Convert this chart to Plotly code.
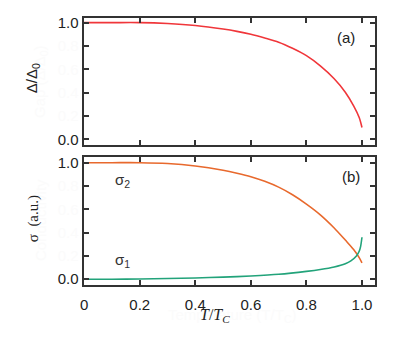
import plotly.graph_objects as go

# ---- data ----
t_gap = [0, 0.1, 0.2, 0.3, 0.4, 0.5, 0.55, 0.6, 0.65, 0.7, 0.75, 0.8, 0.85, 0.9, 0.94, 0.97, 0.99, 1.0]
gap = [1.0, 1.0, 1.0, 0.992, 0.975, 0.945, 0.925, 0.90, 0.868, 0.832, 0.78, 0.717, 0.63, 0.52, 0.405, 0.288, 0.188, 0.103]

t_sig2 = [0, 0.1, 0.2, 0.3, 0.4, 0.5, 0.55, 0.6, 0.65, 0.7, 0.75, 0.8, 0.85, 0.9, 0.94, 0.97, 0.99, 1.0]
sigma2 = [1.0, 1.0, 1.0, 0.993, 0.972, 0.935, 0.91, 0.88, 0.84, 0.79, 0.725, 0.645, 0.553, 0.44, 0.336, 0.255, 0.185, 0.14]

t_sig1 = [0, 0.1, 0.2, 0.3, 0.4, 0.5, 0.6, 0.7, 0.8, 0.85, 0.9, 0.94, 0.96, 0.98, 0.99, 0.995, 1.0]
sigma1 = [0.0, 0.0, 0.002, 0.006, 0.011, 0.018, 0.028, 0.042, 0.067, 0.083, 0.105, 0.133, 0.158, 0.2, 0.24, 0.28, 0.36]

x_ticks = [0, 0.2, 0.4, 0.6, 0.8, 1.0]
x_ticklabels = ["0", "0.2", "0.4", "0.6", "0.8", "1.0"]
y_ticks = [0, 0.2, 0.4, 0.6, 0.8, 1.0]
y_ticklabels = ["0.0", "0.2", "0.4", "0.6", "0.8", "1.0"]
y_ghost = [False, True, True, True, True, False]

RED = "#f0363a"
ORANGE = "#e8692d"
GREEN = "#22a37a"
AX = "#333333"
GHOST = "#fbfbfb"
SANS = "Liberation Sans, Arial, sans-serif"
SERIF = "Liberation Serif, Times New Roman, serif"

ytext = [f"<span style='color:{GHOST}'>{lab}</span>" if g else lab for lab, g in zip(y_ticklabels, y_ghost)]

fig = go.Figure()
fig.add_trace(go.Scatter(x=t_gap, y=gap, mode="lines", line=dict(color=RED, width=1.6, shape="spline", smoothing=0.8),
                         xaxis="x", yaxis="y", showlegend=False))
fig.add_trace(go.Scatter(x=t_sig2, y=sigma2, mode="lines", line=dict(color=ORANGE, width=1.6, shape="spline", smoothing=0.8),
                         xaxis="x2", yaxis="y2", showlegend=False))
fig.add_trace(go.Scatter(x=t_sig1, y=sigma1, mode="lines", line=dict(color=GREEN, width=1.6, shape="spline", smoothing=0.8),
                         xaxis="x2", yaxis="y2", showlegend=False))

W, H = 408, 341
xdom = [80.4 / W, 374.7 / W]
common_x = dict(range=[-0.002, 1.047], tickvals=x_ticks, ticks="inside", ticklen=5, tickwidth=1.5,
                tickcolor=AX, showline=True, linecolor=AX, linewidth=2, mirror="ticks",
                showgrid=False, zeroline=False, domain=xdom,
                tickfont=dict(family=SANS, size=15, color="#222"))
common_y = dict(tickvals=y_ticks, ticktext=ytext, ticks="inside", ticklen=5, tickwidth=1.5,
                tickcolor=AX, showline=True, linecolor=AX, linewidth=2, mirror="ticks",
                showgrid=False, zeroline=False,
                tickfont=dict(family=SANS, size=15, color="#222"))

fig.update_layout(
    width=W, height=H,
    margin=dict(l=0, r=0, t=0, b=0),
    paper_bgcolor="white", plot_bgcolor="white",
    xaxis=dict(common_x, anchor="y", showticklabels=False),
    yaxis=dict(common_y, anchor="x", range=[-0.05, 1.042],
               domain=[(H - 144.3) / H, (H - 14) / H]),
    xaxis2=dict(common_x, anchor="y2", ticktext=x_ticklabels, showticklabels=True, ticklabelstandoff=5),
    yaxis2=dict(common_y, anchor="x2", range=[-0.048, 1.053],
                domain=[(H - 286.7) / H, (H - 155.7) / H]),
)


def px(x, y):
    return x / W, 1 - y / H


def pann(text, x, y, font, angle=0):
    gx, gy = px(x, y)
    return dict(x=gx, y=gy, xref="paper", yref="paper", text=text, showarrow=False,
                xanchor="center", yanchor="middle", textangle=angle, font=font)


ann = []
# ghost titles (very faint in the reference)
ann.append(pann("Gap (Δ/Δ<sub>0</sub>)", 37, 79, dict(family=SANS, size=15, color=GHOST), -90))
ann.append(pann("Conductivity", 37, 221, dict(family=SANS, size=15, color=GHOST), -90))
ann.append(pann("Temperature (T/T<sub>C</sub>)", 230, 318, dict(family=SANS, size=15, color=GHOST)))

# visible titles
ann.append(pann("Δ/Δ<sub>0</sub>", 29, 76, dict(family=SANS, size=15, color="#222"), -90))
ann.append(pann("σ  (a.u.)", 30, 219, dict(family=SERIF, size=15, color="#222"), -90))
ann.append(pann("<i>T</i>/<i>T</i><sub><i>C</i></sub>", 213, 318, dict(family=SERIF, size=16, color="#222")))


def dann(text, x, y, xr, yr, color="#222"):
    return dict(x=x, y=y, xref=xr, yref=yr, text=text, showarrow=False,
                xanchor="center", yanchor="middle", font=dict(family=SANS, size=15, color=color))


# panel labels
ann.append(dann("(a)", 0.944, 0.87, "x", "y"))
ann.append(dann("(b)", 0.96, 0.88, "x2", "y2"))
# curve labels
ann.append(dann("σ<sub>2</sub>", 0.137, 0.845, "x2", "y2", "#333"))
ann.append(dann("σ<sub>1</sub>", 0.137, 0.16, "x2", "y2", "#333"))

fig.update_layout(annotations=ann)
fig.write_html("out.html", config={"displayModeBar": False},
               post_script="document.body.style.margin='0';document.body.style.overflow='hidden';")
